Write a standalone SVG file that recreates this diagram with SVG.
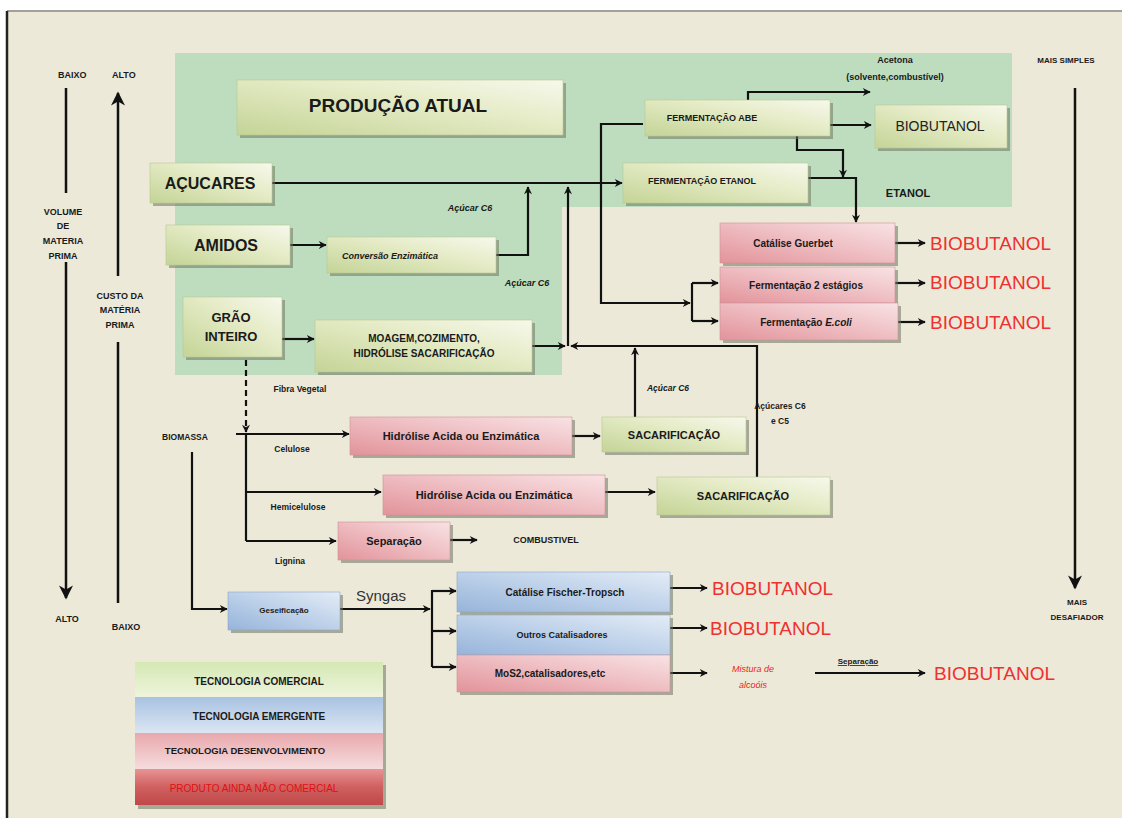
<svg xmlns="http://www.w3.org/2000/svg" width="1122" height="818" viewBox="0 0 1122 818">
<defs>
<linearGradient id="gG" x1="0" y1="1" x2="1" y2="0"><stop offset="0" stop-color="#C4D496"/><stop offset="0.6" stop-color="#E6ECC8"/><stop offset="1" stop-color="#F7F8EC"/></linearGradient>
<linearGradient id="gP" x1="0" y1="1" x2="1" y2="0"><stop offset="0" stop-color="#E2939A"/><stop offset="0.6" stop-color="#F0C4C8"/><stop offset="1" stop-color="#F8E2E4"/></linearGradient>
<linearGradient id="gB" x1="0" y1="1" x2="1" y2="0"><stop offset="0" stop-color="#96B4DA"/><stop offset="0.6" stop-color="#C4D6EC"/><stop offset="1" stop-color="#E4ECF6"/></linearGradient>
<linearGradient id="gR" x1="0" y1="0" x2="0" y2="1"><stop offset="0" stop-color="#E89494"/><stop offset="0.5" stop-color="#D06060"/><stop offset="1" stop-color="#C04848"/></linearGradient>
<linearGradient id="gLG" x1="0" y1="0" x2="0" y2="1"><stop offset="0" stop-color="#D4E8B4"/><stop offset="1" stop-color="#EEF4DC"/></linearGradient>
<linearGradient id="gLB" x1="0" y1="0" x2="0" y2="1"><stop offset="0" stop-color="#A8C2E2"/><stop offset="1" stop-color="#DCE6F2"/></linearGradient>
<linearGradient id="gLP" x1="0" y1="0" x2="0" y2="1"><stop offset="0" stop-color="#E8A8AC"/><stop offset="1" stop-color="#F6DCDE"/></linearGradient>
<marker id="ah" viewBox="0 0 10 10" refX="9" refY="5" markerWidth="10" markerHeight="8" orient="auto" markerUnits="userSpaceOnUse"><path d="M0,0 L10,5 L0,10 L3,5 Z" fill="#111"/></marker>
<marker id="ahB" viewBox="0 0 10 10" refX="9" refY="5" markerWidth="20" markerHeight="14" orient="auto" markerUnits="userSpaceOnUse"><path d="M0,0 L10,5 L0,10 L3,5 Z" fill="#111"/></marker>
<style>
.t{font-family:"Liberation Sans",Arial,sans-serif;fill:#1a1a1a;font-weight:bold}
.s{font-size:10px}
.i{font-style:italic}
.red{font-family:"Liberation Sans",Arial,sans-serif;fill:#F03030;font-size:19px}
.sh{fill:#6E7460;opacity:0.55}
.gb{fill:url(#gG);stroke:#B8C890;stroke-width:0.6}
.pb{fill:url(#gP);stroke:#D09098;stroke-width:0.6}
.bb{fill:url(#gB);stroke:#8EA8C8;stroke-width:0.6}
.c{fill:none;stroke:#111;stroke-width:2.2}
.ca{fill:none;stroke:#111;stroke-width:2.2;marker-end:url(#ah)}
.ax{fill:none;stroke:#111;stroke-width:2.5}
</style>
</defs>
<rect x="0" y="0" width="1122" height="818" fill="#FFFFFF"/>
<rect x="7" y="11" width="1115" height="807" fill="#ECE9D9"/>
<line x1="7" y1="11" x2="1122" y2="11" stroke="#A0A0A0" stroke-width="2"/>
<line x1="7" y1="11" x2="7" y2="818" stroke="#222" stroke-width="2.5"/>
<path d="M175,53 H1012 V207 H562 V375 H175 Z" fill="#BEDDBE"/>

<g id="axes">
<text class="t" x="58" y="78" font-size="9">BAIXO</text>
<text class="t" x="112" y="78" font-size="9">ALTO</text>
<line class="ax" x1="66" y1="88" x2="66" y2="193"/>
<text class="t" x="63" y="215" text-anchor="middle" font-size="9">VOLUME</text>
<text class="t" x="63" y="229" text-anchor="middle" font-size="9">DE</text>
<text class="t" x="63" y="244" text-anchor="middle" font-size="9">MATERIA</text>
<text class="t" x="63" y="259" text-anchor="middle" font-size="9">PRIMA</text>
<line class="ax" x1="66" y1="262" x2="66" y2="598" marker-end="url(#ahB)"/>
<text class="t" x="67" y="622" text-anchor="middle" font-size="9">ALTO</text>
<line class="ax" x1="118" y1="276" x2="118" y2="93" marker-end="url(#ahB)"/>
<text class="t" x="120" y="299" text-anchor="middle" font-size="9">CUSTO DA</text>
<text class="t" x="120" y="313" text-anchor="middle" font-size="9">MATÉRIA</text>
<text class="t" x="120" y="328" text-anchor="middle" font-size="9">PRIMA</text>
<line class="ax" x1="118" y1="342" x2="118" y2="603"/>
<text class="t" x="126" y="630" text-anchor="middle" font-size="9">BAIXO</text>
<text class="t" x="1066" y="63" text-anchor="middle" font-size="8">MAIS SIMPLES</text>
<line class="ax" x1="1075" y1="88" x2="1075" y2="588" marker-end="url(#ahB)"/>
<text class="t" x="1077" y="605" text-anchor="middle" font-size="8">MAIS</text>
<text class="t" x="1077" y="620" text-anchor="middle" font-size="8">DESAFIADOR</text>
</g>

<g id="connectors">
<line class="ca" x1="272" y1="183" x2="622" y2="183"/>
<line class="ca" x1="290" y1="245" x2="326" y2="245"/>
<path class="ca" d="M496,255 H528 V187"/>
<line class="ca" x1="568" y1="346" x2="568" y2="187"/>
<line class="ca" x1="282" y1="339" x2="314" y2="339"/>
<line class="ca" x1="532" y1="346" x2="565" y2="346"/>
<path class="ca" d="M757,477 V346 H571"/>
<line class="ca" x1="635" y1="417" x2="635" y2="348"/>
<path class="ca" d="M643,124 H601 V303 H690"/>
<path class="c" d="M692,283 V321"/>
<line class="ca" x1="692" y1="283" x2="718" y2="283"/>
<line class="ca" x1="692" y1="321" x2="718" y2="321"/>
<path class="ca" d="M748,100 V92 H870"/>
<line class="ca" x1="830" y1="125" x2="871" y2="125"/>
<path class="ca" d="M797,136 V150 H843 V177"/>
<path class="ca" d="M808,178 H856 V222"/>
<line class="ca" x1="895" y1="243" x2="925" y2="243"/>
<line class="ca" x1="895" y1="283" x2="925" y2="283"/>
<line class="ca" x1="898" y1="322" x2="925" y2="322"/>
<line class="ca" x1="246" y1="360" x2="246" y2="432" stroke-dasharray="6,4"/>
<line class="ca" x1="236" y1="434" x2="349" y2="434"/>
<path class="c" d="M246,434 V541"/>
<line class="ca" x1="246" y1="492" x2="381" y2="492"/>
<line class="ca" x1="246" y1="541" x2="336" y2="541"/>
<line class="ca" x1="572" y1="436" x2="600" y2="436"/>
<line class="ca" x1="605" y1="492" x2="655" y2="492"/>
<line class="ca" x1="450" y1="540" x2="477" y2="540"/>
<path class="ca" d="M192,452 V609 H227"/>
<line class="ca" x1="340" y1="609" x2="430" y2="609"/>
<path class="c" d="M432,590 V667"/>
<line class="ca" x1="432" y1="591" x2="456" y2="591"/>
<line class="ca" x1="432" y1="631" x2="456" y2="631"/>
<line class="ca" x1="432" y1="667" x2="456" y2="667"/>
<line class="ca" x1="670" y1="588" x2="707" y2="588"/>
<line class="ca" x1="670" y1="628" x2="707" y2="628"/>
<line class="ca" x1="670" y1="673" x2="707" y2="673"/>
<line class="ca" x1="815" y1="673" x2="925" y2="673"/>
</g>

<g id="producao-atual"><rect class="sh" x="240" y="83" width="326" height="55"/><rect class="gb" x="237" y="80" width="326" height="55"/><text class="t" x="398" y="112" text-anchor="middle" font-size="19">PRODUÇÃO ATUAL</text></g>
<g id="acucares"><rect class="sh" x="153" y="166" width="122" height="40"/><rect class="gb" x="150" y="163" width="122" height="40"/><text class="t" x="210" y="189" text-anchor="middle" font-size="16">AÇUCARES</text></g>
<g id="amidos"><rect class="sh" x="169" y="228" width="124" height="40"/><rect class="gb" x="166" y="225" width="124" height="40"/><text class="t" x="226" y="251" text-anchor="middle" font-size="16">AMIDOS</text></g>
<g id="conversao"><rect class="sh" x="330" y="240" width="169" height="36"/><rect class="gb" x="327" y="237" width="169" height="36"/><text class="t i" x="390" y="259" text-anchor="middle" font-size="9">Conversão Enzimática</text></g>
<g id="grao"><rect class="sh" x="186" y="300" width="99" height="60"/><rect class="gb" x="183" y="297" width="99" height="60"/><text class="t" x="231" y="322" text-anchor="middle" font-size="13">GRÃO</text><text class="t" x="231" y="341" text-anchor="middle" font-size="13">INTEIRO</text></g>
<g id="moagem"><rect class="sh" x="318" y="323" width="217" height="52"/><rect class="gb" x="315" y="320" width="217" height="52"/><text class="t" x="424" y="342" text-anchor="middle" font-size="10">MOAGEM,COZIMENTO,</text><text class="t" x="424" y="357" text-anchor="middle" font-size="10">HIDRÓLISE SACARIFICAÇÃO</text></g>
<g id="ferm-abe"><rect class="sh" x="648" y="103" width="185" height="36"/><rect class="gb" x="645" y="100" width="185" height="36"/><text class="t" x="712" y="121" text-anchor="middle" font-size="9">FERMENTAÇÃO ABE</text></g>
<g id="ferm-etanol"><rect class="sh" x="626" y="166" width="185" height="40"/><rect class="gb" x="623" y="163" width="185" height="40"/><text class="t" x="702" y="184" text-anchor="middle" font-size="9">FERMENTAÇÃO ETANOL</text></g>
<g id="biobutanol-box"><rect class="sh" x="878" y="108" width="132" height="43"/><rect class="gb" x="875" y="105" width="132" height="43"/><text x="940" y="131" text-anchor="middle" font-family="Liberation Sans, Arial, sans-serif" font-size="14" fill="#222">BIOBUTANOL</text></g>
<g id="guerbet"><rect class="sh" x="723" y="226" width="175" height="40"/><rect class="pb" x="720" y="223" width="175" height="40"/><text class="t" x="793" y="247" text-anchor="middle" font-size="10">Catálise Guerbet</text></g>
<g id="ferm2"><rect class="sh" x="723" y="270" width="175" height="36"/><rect class="pb" x="720" y="267" width="175" height="36"/><text class="t" x="806" y="289" text-anchor="middle" font-size="10">Fermentação 2 estágios</text></g>
<g id="ecoli"><rect class="sh" x="723" y="306" width="178" height="37"/><rect class="pb" x="720" y="303" width="178" height="37"/><text class="t" x="806" y="326" text-anchor="middle" font-size="10">Fermentação <tspan font-style="italic">E.coli</tspan></text></g>
<g id="hidrolise1"><rect class="sh" x="353" y="420" width="222" height="38"/><rect class="pb" x="350" y="417" width="222" height="38"/><text class="t" x="461" y="440" text-anchor="middle" font-size="11">Hidrólise Acida ou Enzimática</text></g>
<g id="sacarif1"><rect class="sh" x="605" y="420" width="144" height="35"/><rect class="gb" x="602" y="417" width="144" height="35"/><text class="t" x="674" y="439" text-anchor="middle" font-size="11">SACARIFICAÇÃO</text></g>
<g id="hidrolise2"><rect class="sh" x="386" y="478" width="222" height="40"/><rect class="pb" x="383" y="475" width="222" height="40"/><text class="t" x="494" y="499" text-anchor="middle" font-size="11">Hidrólise Acida ou Enzimática</text></g>
<g id="sacarif2"><rect class="sh" x="660" y="480" width="173" height="38"/><rect class="gb" x="657" y="477" width="173" height="38"/><text class="t" x="743" y="500" text-anchor="middle" font-size="11">SACARIFICAÇÃO</text></g>
<g id="separacao"><rect class="sh" x="341" y="525" width="112" height="38"/><rect class="pb" x="338" y="522" width="112" height="38"/><text class="t" x="394" y="545" text-anchor="middle" font-size="11">Separação</text></g>
<g id="gaseificacao"><rect class="sh" x="231" y="595" width="112" height="38"/><rect class="bb" x="228" y="592" width="112" height="38"/><text class="t" x="284" y="613" text-anchor="middle" font-size="8">Geseificação</text></g>
<g id="fischer"><rect class="sh" x="460" y="575" width="213" height="40"/><rect class="bb" x="457" y="572" width="213" height="40"/><text class="t" x="565" y="596" text-anchor="middle" font-size="10">Catálise Fischer-Tropsch</text></g>
<g id="outros"><rect class="sh" x="460" y="618" width="213" height="40"/><rect class="bb" x="457" y="615" width="213" height="40"/><text class="t" x="562" y="638" text-anchor="middle" font-size="9">Outros Catalisadores</text></g>
<g id="mos2"><rect class="sh" x="460" y="658" width="213" height="37"/><rect class="pb" x="457" y="655" width="213" height="37"/><text class="t" x="550" y="677" text-anchor="middle" font-size="10">MoS2,catalisadores,etc</text></g>

<g id="labels">
<text class="t" x="895" y="63" text-anchor="middle" font-size="9" font-weight="normal">Acetona</text>
<text class="t" x="895" y="80" text-anchor="middle" font-size="9">(solvente,combustível)</text>
<text class="t" x="908" y="197" text-anchor="middle" font-size="11">ETANOL</text>
<text class="t i" x="470" y="211" text-anchor="middle" font-size="9">Açúcar C6</text>
<text class="t i" x="527" y="286" text-anchor="middle" font-size="9">Açúcar C6</text>
<text class="t" x="300" y="392" text-anchor="middle" font-size="8.5">Fibra Vegetal</text>
<text class="t" x="185" y="440" text-anchor="middle" font-size="8.5">BIOMASSA</text>
<text class="t" x="292" y="452" text-anchor="middle" font-size="8.5">Celulose</text>
<text class="t" x="298" y="510" text-anchor="middle" font-size="8.5">Hemicelulose</text>
<text class="t" x="290" y="564" text-anchor="middle" font-size="8.5">Lignina</text>
<text class="t" x="546" y="543" text-anchor="middle" font-size="9">COMBUSTIVEL</text>
<text class="t i" x="668" y="391" text-anchor="middle" font-size="8.5">Açúcar C6</text>
<text class="t" x="780" y="409" text-anchor="middle" font-size="8.5">Açúcares C6</text>
<text class="t" x="780" y="424" text-anchor="middle" font-size="8.5">e C5</text>
<text x="381" y="601" text-anchor="middle" font-family="Liberation Sans, Arial, sans-serif" font-size="15" fill="#333">Syngas</text>
<text x="753" y="672" text-anchor="middle" font-family="Liberation Sans, Arial, sans-serif" font-size="9" font-style="italic" fill="#F02020">Mistura de</text>
<text x="753" y="688" text-anchor="middle" font-family="Liberation Sans, Arial, sans-serif" font-size="9" font-style="italic" fill="#F02020">alcoóis</text>
<text class="t" x="858" y="664" text-anchor="middle" font-size="8" text-decoration="underline">Separação</text>
<text class="red" x="930" y="250">BIOBUTANOL</text>
<text class="red" x="930" y="289">BIOBUTANOL</text>
<text class="red" x="930" y="329">BIOBUTANOL</text>
<text class="red" x="712" y="595">BIOBUTANOL</text>
<text class="red" x="710" y="635">BIOBUTANOL</text>
<text class="red" x="934" y="680">BIOBUTANOL</text>
</g>

<g id="legend">
<rect class="sh" x="138" y="665" width="248" height="144"/>
<rect x="135" y="662" width="248" height="35" fill="url(#gLG)"/>
<rect x="135" y="697" width="248" height="36" fill="url(#gLB)"/>
<rect x="135" y="733" width="248" height="36" fill="url(#gLP)"/>
<rect x="135" y="769" width="248" height="36" fill="url(#gR)"/>
<text class="t" x="259" y="685" text-anchor="middle" font-size="10" font-weight="normal">TECNOLOGIA COMERCIAL</text>
<text class="t" x="259" y="720" text-anchor="middle" font-size="10" font-weight="normal">TECNOLOGIA EMERGENTE</text>
<text class="t" x="245" y="754" text-anchor="middle" font-size="9.5">TECNOLOGIA DESENVOLVIMENTO</text>
<text x="254" y="792" text-anchor="middle" font-family="Liberation Sans, Arial, sans-serif" font-size="10" fill="#E01010">PRODUTO AINDA NÃO COMERCIAL</text>
</g>
</svg>
